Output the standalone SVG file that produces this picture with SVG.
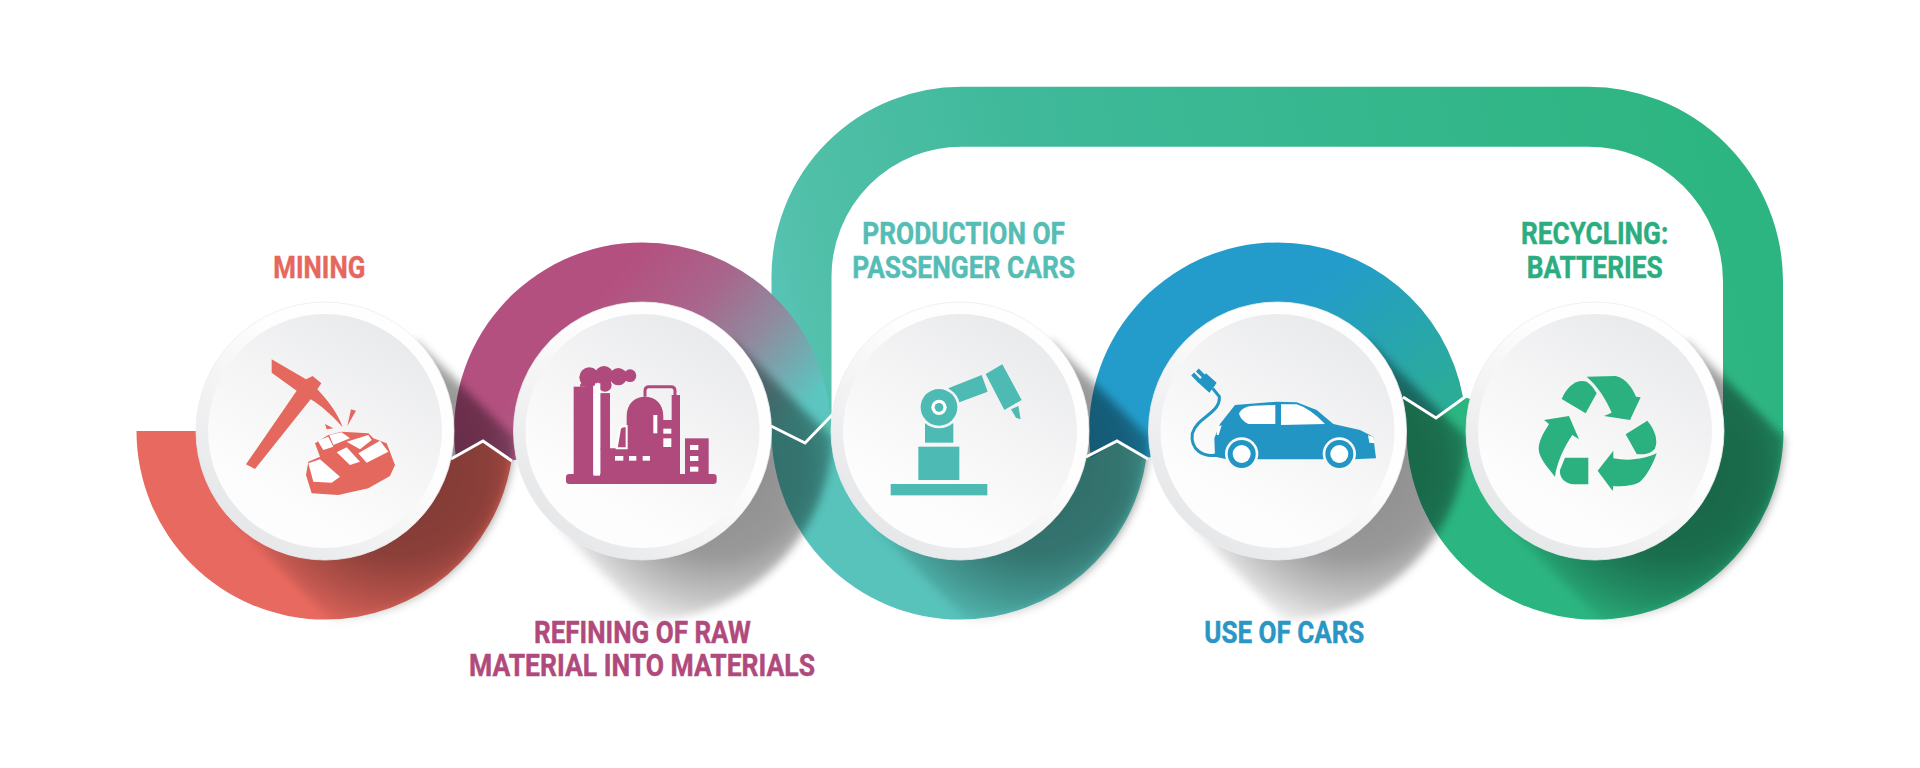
<svg xmlns="http://www.w3.org/2000/svg" width="1920" height="768" viewBox="0 0 1920 768">
<style>
text{font-family:"Roboto","Liberation Sans",sans-serif;font-weight:700;font-size:30.5px;stroke-width:.45}
.rim{fill:url(#rimG);stroke:#ececee;stroke-width:.8}.face{fill:url(#faceG)}
.zig{fill:none;stroke:#fff;stroke-width:3;stroke-linejoin:miter}
.w{fill:#fff}
.red{fill:#e4685e}.pur{fill:#b04a7c}.tea{fill:#4dbab3}.blu{fill:#2295c5}.gre{fill:#2bb07f}
text.red{stroke:#e4685e}text.pur{stroke:#b04a7c}text.tea{fill:#55bdb5;stroke:#55bdb5}text.blu{fill:#2a96c5;stroke:#2a96c5}text.gre{fill:#2bad80;stroke:#2bad80}
</style>
<defs>
<linearGradient id="rimG" x1="0.85" y1="0.1" x2="0.15" y2="0.9"><stop offset="0.35" stop-color="#fefefe"/><stop offset="1" stop-color="#e5e6e8"/></linearGradient>
<linearGradient id="faceG" x1="0.75" y1="0.05" x2="0.25" y2="0.95"><stop offset="0" stop-color="#e9eaec"/><stop offset="0.45" stop-color="#f5f5f6"/><stop offset="0.85" stop-color="#fdfdfd"/></linearGradient>
<linearGradient id="purG" gradientUnits="userSpaceOnUse" x1="640" y1="250" x2="810" y2="400"><stop offset="0" stop-color="#b4507f"/><stop offset="0.35" stop-color="#a9658c"/><stop offset="0.65" stop-color="#8f8c9f"/><stop offset="1" stop-color="#5bc5bf"/></linearGradient>
<linearGradient id="bluG" gradientUnits="userSpaceOnUse" x1="1330" y1="270" x2="1440" y2="400"><stop offset="0" stop-color="#239ccb"/><stop offset="1" stop-color="#2bac98"/></linearGradient>
<linearGradient id="loopG" gradientUnits="userSpaceOnUse" x1="790" y1="440" x2="1750" y2="200"><stop offset="0" stop-color="#5ac5bd"/><stop offset="0.06" stop-color="#52c0aa"/><stop offset="0.3" stop-color="#3fb99a"/><stop offset="1" stop-color="#2cb580"/></linearGradient>
<radialGradient id="shG" gradientUnits="userSpaceOnUse" cx="75" cy="35" r="180"><stop offset="0" stop-color="#000" stop-opacity="0.46"/><stop offset="0.5" stop-color="#000" stop-opacity="0.4"/><stop offset="0.75" stop-color="#000" stop-opacity="0.22"/><stop offset="1" stop-color="#000" stop-opacity="0"/></radialGradient>
<clipPath id="shC"><circle r="190"/></clipPath>
<filter id="soft" x="-10%" y="-10%" width="120%" height="120%"><feGaussianBlur stdDeviation="4"/></filter>
<g id="sh"><g filter="url(#soft)"><g clip-path="url(#shC)"><path d="M91.2 -91.2L300 117.6L117.6 300L-91.2 91.2Z" fill="url(#shG)"/></g></g></g>
<g id="disc"><circle class="rim" r="129"/><circle class="face" r="117"/></g>
</defs>
<rect width="1920" height="768" fill="#fff"/>
<g id="connectors">
<path fill="none" stroke="url(#loopG)" stroke-width="60" d="M801.5 432V276A160 160 0 0 1 961.5 116.7H1588A165 165 0 0 1 1753 281V432"/>
<path id="seg-production" fill="#57c3bb" d="M771.5 431A188.5 188.5 0 0 0 960 619.5A188.5 188.5 0 0 0 1146.5 458L1117 441L1086 457L960 431Z"/>
<path id="seg-recycling" fill="#2bb580" d="M1403 397L1436 418L1463 397L1595 431H1783.5A188.5 188.5 0 0 1 1595 619.5A188.5 188.5 0 0 1 1406.5 431Z"/>
<path id="seg-mining" fill="#e8695f" d="M136.5 431A188.5 188.5 0 0 0 325 619.5A188.5 188.5 0 0 0 511.5 461L483 441L450 459L325 431Z"/>
<path id="seg-refining" fill="url(#purG)" d="M456 458A188.5 188.5 0 0 1 642.5 242.5A188.5 188.5 0 0 1 830 414L805 443L771 426L642 431L510 461L483 441Z"/>
<path id="seg-use" fill="url(#bluG)" d="M1091 458A188.5 188.5 0 0 1 1277.5 242.5A188.5 188.5 0 0 1 1463 397L1436 418L1403 397L1277 431L1146 458L1117 441Z"/>
<use href="#sh" x="325" y="431"/><use href="#sh" x="642.5" y="431"/><use href="#sh" x="960" y="431"/><use href="#sh" x="1277.5" y="431"/><use href="#sh" x="1595" y="431"/>
<path class="zig" d="M451 459L483 441L512 461"/>
<path class="zig" d="M771 426L805 443L833 414"/>
<path class="zig" d="M1086 457L1117 441L1148 459"/>
<path class="zig" d="M1403 397L1436 418L1465 397"/>
</g>
<g id="node-mining">
<use href="#disc" x="325" y="431"/>
<g transform="translate(120 220) scale(.33333)" class="red">
<path d="M455 418L558 478L578 468L604 490L592 508C628 545 655 585 668 622C635 585 605 558 572 538L405 747L378 733L530 512L455 458Z"/>
<path d="M693 568L708 572L682 618ZM615 612L640 625L620 628Z"/>
<path d="M585 670L625 645L665 635L745 640L760 655L800 670L825 735L810 768L745 805L655 825L575 820L558 765L565 725L600 710Z"/>
<path class="w" d="M565 730L600 718L660 770L635 788L580 785ZM593 662L625 650L640 680L610 690ZM628 645L665 637L690 655L640 675ZM680 665L745 645L755 660L720 688ZM650 697L680 682L720 725L690 735ZM715 700L780 662L805 695L740 728Z"/>
</g>
<text class="red" x="273.3" y="278.3" textLength="92" lengthAdjust="spacingAndGlyphs">MINING</text>
</g>
<g id="node-refining">
<use href="#disc" x="642.5" y="431"/>
<g transform="translate(480 220) scale(.33333)" class="pur">
<rect x="258" y="762" width="452" height="30" rx="10"/>
<rect x="281" y="500" width="59" height="270"/>
<rect x="362" y="520" width="28" height="250"/>
<path d="M362 685H440V590C440 550 465 530 495 530C525 530 550 550 550 590V600H575V525H600V770H362Z"/>
<path d="M410 685L420 625Q425 618 440 618V685Z" stroke="#fff" stroke-width="6"/>
<path d="M495 530V512Q495 500 507 500H573Q585 500 585 512V530" fill="none" stroke="#b04a7c" stroke-width="9"/>
<circle cx="328" cy="472" r="30"/><circle cx="372" cy="466" r="28"/><circle cx="415" cy="470" r="26"/><circle cx="450" cy="467" r="19"/><circle cx="375" cy="495" r="20"/>
<path d="M300 495Q315 465 340 470V500H300Z"/>
<rect class="w" x="340" y="497" width="20" height="270"/>
<rect class="w" x="345" y="490" width="16" height="22"/>
<rect x="362" y="520" width="28" height="170"/>
<rect class="w" x="520" y="585" width="12" height="55"/>
<rect class="w" x="550" y="626" width="24" height="15"/><rect class="w" x="550" y="655" width="24" height="26"/>
<rect class="w" x="405" y="708" width="25" height="14"/><rect class="w" x="447" y="708" width="22" height="14"/><rect class="w" x="488" y="708" width="22" height="14"/>
<rect x="615" y="655" width="71" height="115"/>
<rect class="w" x="630" y="675" width="25" height="15"/><rect class="w" x="630" y="708" width="25" height="15"/><rect class="w" x="630" y="740" width="25" height="15"/>
</g>
<text class="pur" x="534" y="643.3" textLength="216.7" lengthAdjust="spacingAndGlyphs">REFINING OF RAW</text>
<text class="pur" x="469" y="676" textLength="346" lengthAdjust="spacingAndGlyphs">MATERIAL INTO MATERIALS</text>
</g>
<g id="node-production">
<use href="#disc" x="960" y="431"/>
<g transform="translate(800 200) scale(.33333)" class="tea">
<rect x="272" y="852" width="290" height="34"/>
<rect x="355" y="740" width="123" height="100"/>
<rect x="375" y="670" width="85" height="58"/>
<path d="M445 565L545 525L563 575L470 610Z"/>
<circle cx="417" cy="622" r="63" fill="#f4f5f6"/>
<circle cx="417" cy="622" r="55"/>
<circle cx="417" cy="622" r="23" class="w"/>
<circle cx="417" cy="622" r="13"/>
<path d="M557 522L607 493L665 600L613 630ZM633 628L655 618L662 658L648 653Z"/>
</g>
<text class="tea" x="862.3" y="244.3" textLength="202.7" lengthAdjust="spacingAndGlyphs">PRODUCTION OF</text>
<text class="tea" x="852.3" y="278.3" textLength="222.7" lengthAdjust="spacingAndGlyphs">PASSENGER CARS</text>
</g>
<g id="node-use">
<use href="#disc" x="1277.5" y="431"/>
<g transform="translate(1120 200) scale(.33333)" class="blu">
<path d="M278 565L298 590C302 640 232 650 217 700C210 750 250 772 290 765" fill="none" stroke="#2295c5" stroke-width="9"/>
<path d="M218 522L240 545M232 510L254 532" fill="none" stroke="#2295c5" stroke-width="12"/>
<path d="M232 545L258 520L290 548L282 560L268 578Z"/>
<path d="M285 770L283 715L300 672L345 615L470 605L530 607L590 630L640 672L720 690L760 710L768 775L700 778H320Z"/>
<circle cx="365" cy="762" r="50" fill="#f8f8f9"/><circle cx="658" cy="762" r="50" fill="#f8f8f9"/>
<circle cx="365" cy="762" r="42"/><circle cx="658" cy="762" r="42"/>
<circle cx="365" cy="762" r="27" class="w"/><circle cx="658" cy="762" r="27" class="w"/>
<path class="w" d="M357 640Q365 620 400 617L466 615V672H385Q360 660 357 640ZM483 613H530Q570 625 615 672L483 675ZM744 706L760 710L763 730L748 728ZM292 680L305 676L296 705L290 705Z"/>
</g>
<text class="blu" x="1204.3" y="643" textLength="160" lengthAdjust="spacingAndGlyphs">USE OF CARS</text>
</g>
<g id="node-recycling">
<use href="#disc" x="1595" y="431"/>
<g transform="translate(1440 200) scale(.33333)" class="gre">
<path d="M440 530L527 528C560 535 580 570 588 590L602 592L570 660L492 648L515 638C500 600 470 555 440 530Z"/>
<path d="M365 597C380 560 410 535 440 545C455 555 465 570 470 580L437 640Z"/>
<path d="M312 660L387 648L417 718L397 705C370 745 350 790 345 830C320 800 295 770 296 745C297 715 320 685 327 672Z"/>
<path d="M375 773L445 773V853H400C370 850 358 830 360 810Z"/>
<path d="M650 760C640 790 620 830 600 845C580 858 540 860 520 858L518 873L473 812L520 752V775C570 785 620 775 650 760Z"/>
<path d="M622 662C645 690 655 720 645 745C635 762 610 765 590 762L557 703Z"/>
</g>
<text class="gre" x="1521" y="244.3" textLength="147.3" lengthAdjust="spacingAndGlyphs">RECYCLING:</text>
<text class="gre" x="1526.7" y="278.3" textLength="136" lengthAdjust="spacingAndGlyphs">BATTERIES</text>
</g>
</svg>
